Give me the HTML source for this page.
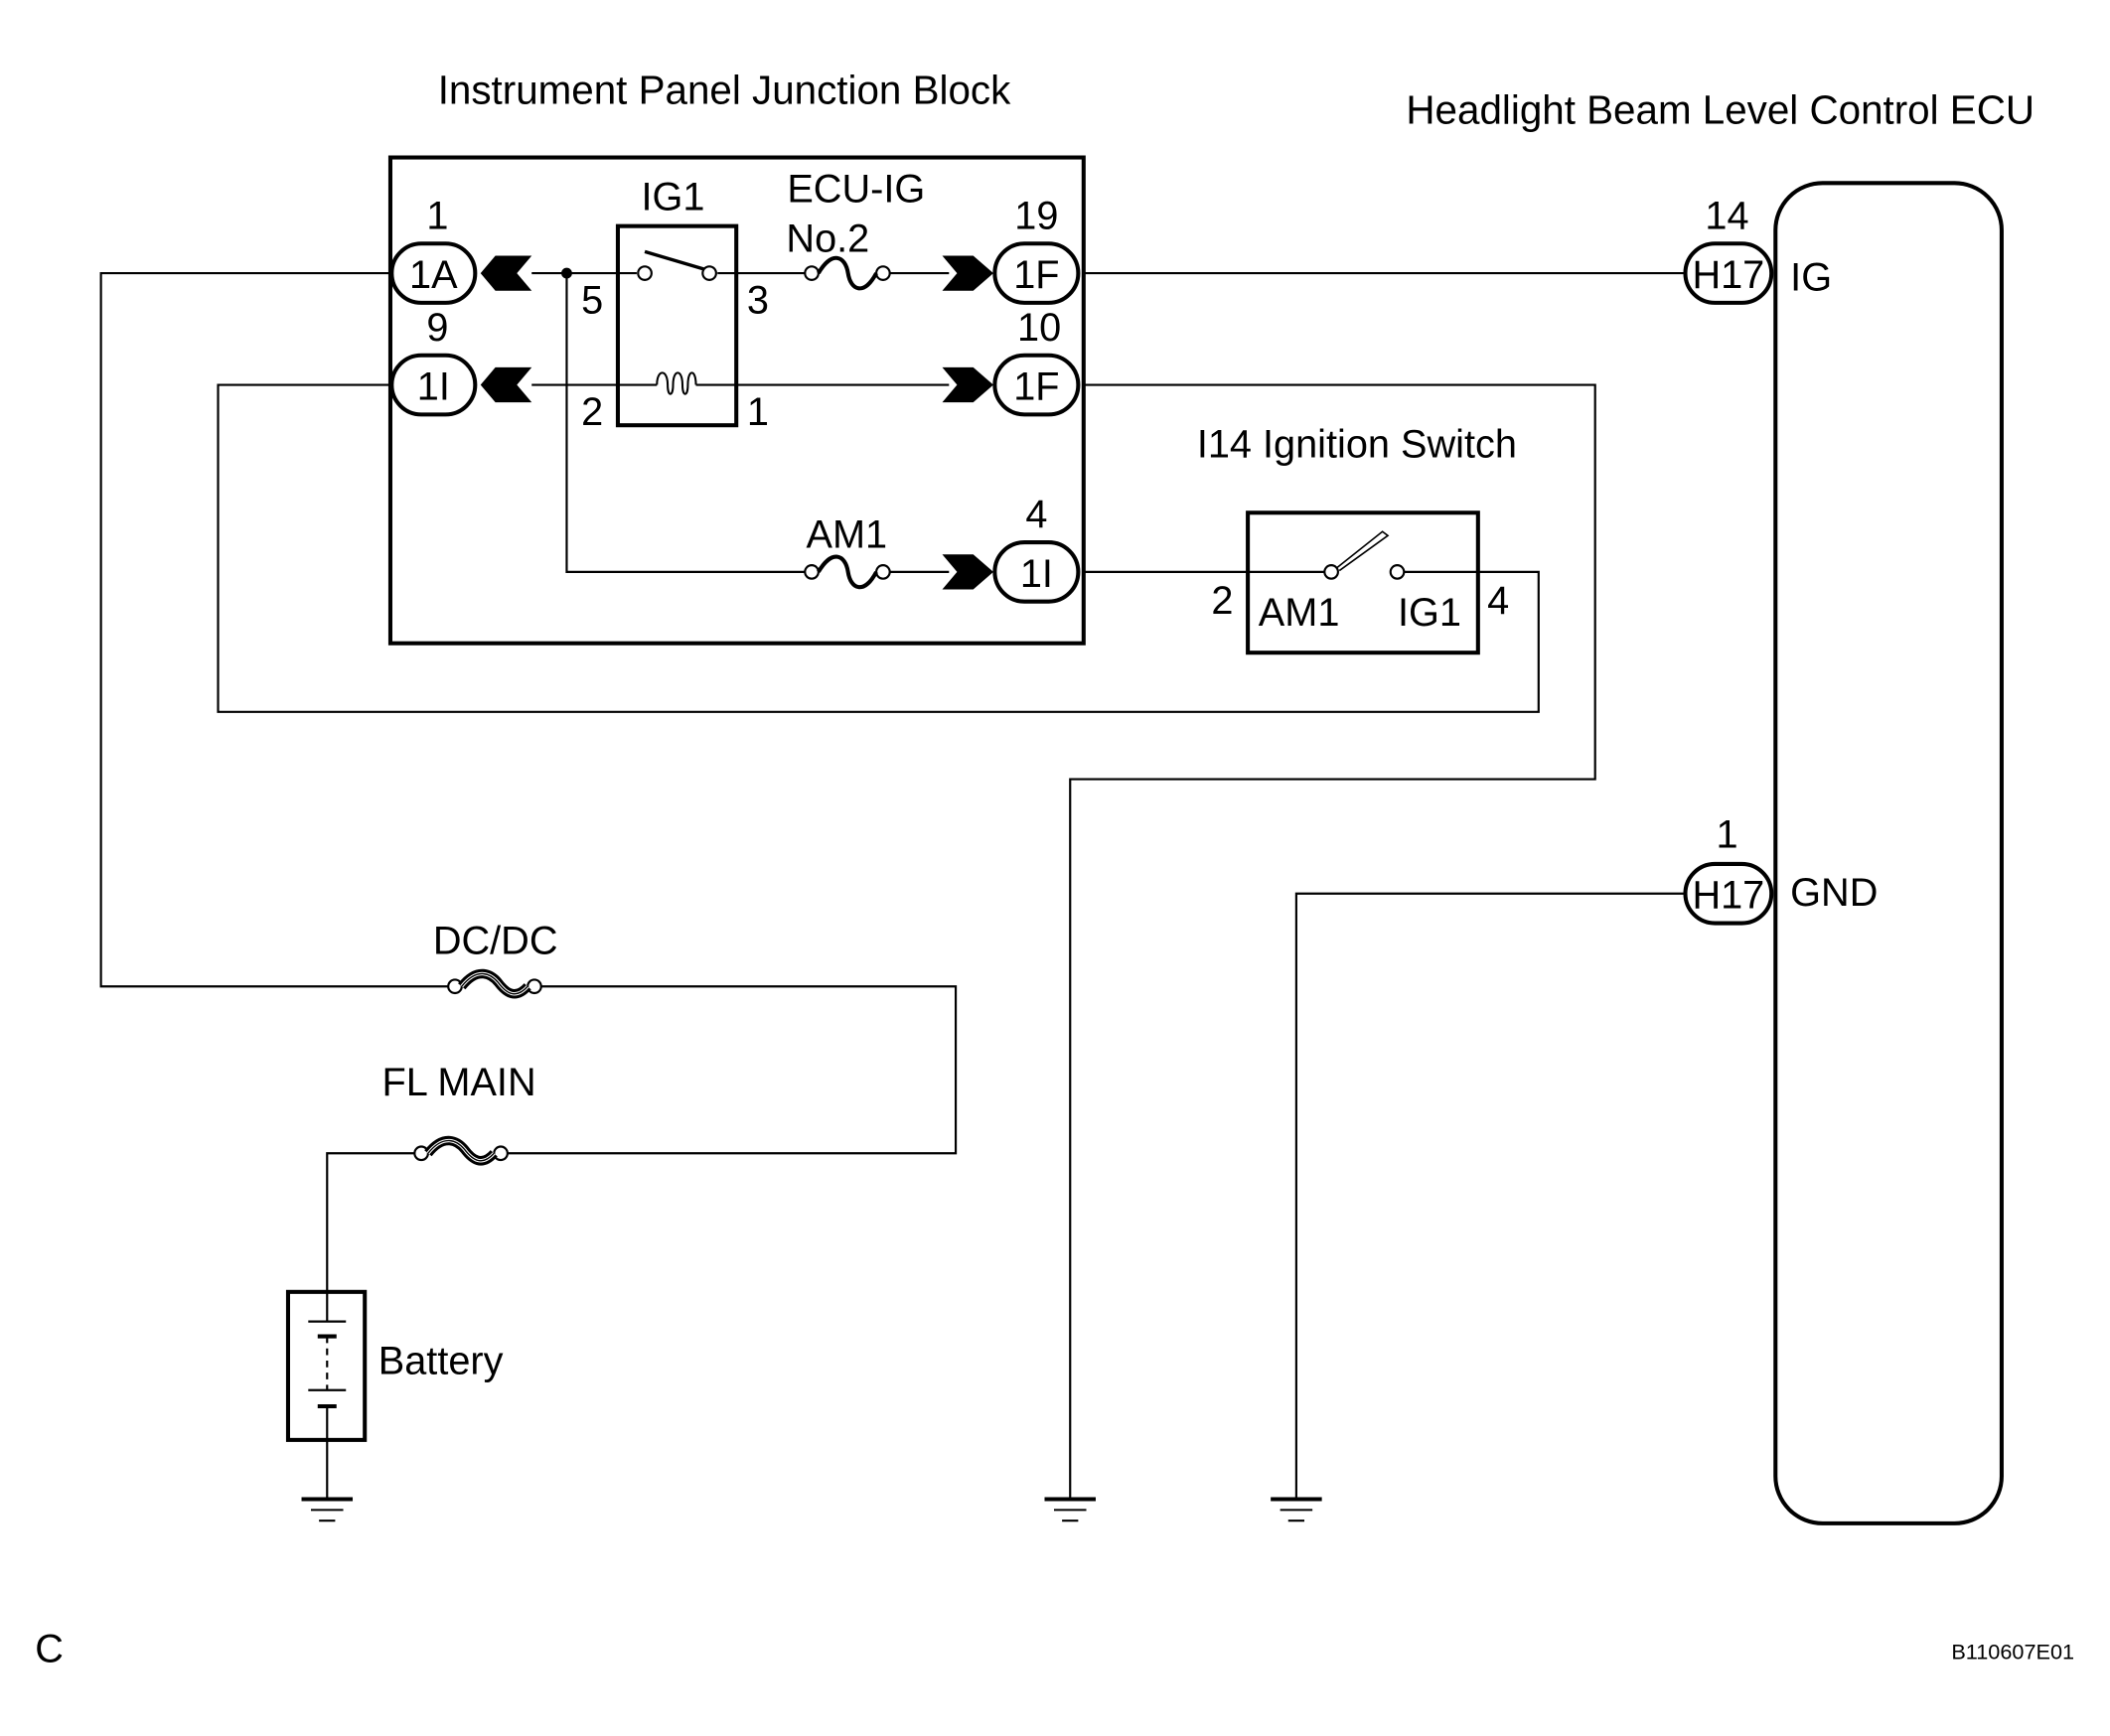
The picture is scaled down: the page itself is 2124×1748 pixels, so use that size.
<!DOCTYPE html>
<html><head><meta charset="utf-8"><style>html,body{margin:0;padding:0;background:#fff}svg{display:block}</style></head>
<body>
<svg width="2124" height="1748" viewBox="0 0 1567.5 1290" xmlns="http://www.w3.org/2000/svg" font-family="Liberation Sans, sans-serif" font-size="29.3" fill="none" stroke="#000">
<rect x="0" y="0" width="1567.5" height="1290" fill="#fff" stroke="none"/>
<g stroke-width="1.6">
<polyline points="290,203 75,203 75,733 333,733"/>
<polyline points="398,733 710,733 710,857 377,857"/>
<polyline points="308,857 243,857 243,960"/>
<line x1="243" y1="1070" x2="243" y2="1114"/>
<line x1="395" y1="203" x2="473" y2="203"/>
<line x1="533" y1="203" x2="598" y2="203"/>
<line x1="660" y1="203" x2="705" y2="203"/>
<line x1="805" y1="203" x2="1252" y2="203"/>
<line x1="395" y1="286" x2="488" y2="286"/>
<line x1="517" y1="286" x2="705" y2="286"/>
<polyline points="290,286 162,286 162,529 1143,529 1143,425 1098,425"/>
<polyline points="805,286 1185,286 1185,579 795,579 795,1114"/>
<polyline points="421,203 421,425 598,425"/>
<line x1="660" y1="425" x2="705" y2="425"/>
<line x1="805" y1="425" x2="984" y2="425"/>
<line x1="1043" y1="425" x2="1098" y2="425"/>
<polyline points="1252,664 963,664 963,1114"/>
</g>
<rect x="290" y="117" width="515" height="361" stroke-width="3"/>
<rect x="1319" y="136" width="168" height="996" rx="35" stroke-width="3"/>
<rect x="459" y="168" width="88" height="148" stroke-width="3"/>
<rect x="927" y="381" width="171" height="104" stroke-width="3"/>
<rect x="214" y="960" width="57" height="110" stroke-width="3"/>
<circle cx="479" cy="203" r="5" fill="#fff" stroke-width="1.6"/>
<circle cx="527" cy="203" r="5" fill="#fff" stroke-width="1.6"/>
<line x1="479" y1="187" x2="523" y2="200" stroke-width="2.5"/>
<path d="M488,286 C488,274 496,274 496,286 C496,295 500,295 500,286 C500,274 507,274 507,286 C507,295 511,295 511,286 C511,274 517,274 517,286" stroke-width="1.5"/>
<circle cx="421" cy="203" r="4" fill="#000" stroke="none"/>
<g stroke-width="1.6">
<circle cx="603" cy="203" r="5" fill="#fff"/><circle cx="656" cy="203" r="5" fill="#fff"/>
<path d="M608,203 C618,186 628,190 630,203 C632,216 642,220 651,203" stroke-width="3"/>
<circle cx="603" cy="425" r="5" fill="#fff"/><circle cx="656" cy="425" r="5" fill="#fff"/>
<path d="M608,425 C618,408 628,412 630,425 C632,438 642,442 651,425" stroke-width="3"/>
<circle cx="338" cy="733" r="5" fill="#fff"/><circle cx="397" cy="733" r="5" fill="#fff"/>
<path d="M343,733 C355,718 365,724 370,730 C376,738 383,743 392,733" stroke-width="7"/>
<path d="M343,733 C355,718 365,724 370,730 C376,738 383,743 392,733" stroke="#fff" stroke-width="2.5"/>
<path d="M343,733 C355,718 365,724 370,730 C376,738 383,743 392,733" stroke-width="1"/>
<circle cx="313" cy="857" r="5" fill="#fff"/><circle cx="372" cy="857" r="5" fill="#fff"/>
<path d="M318,857 C330,842 340,848 345,854 C351,862 358,867 367,857" stroke-width="7"/>
<path d="M318,857 C330,842 340,848 345,854 C351,862 358,867 367,857" stroke="#fff" stroke-width="2.5"/>
<path d="M318,857 C330,842 340,848 345,854 C351,862 358,867 367,857" stroke-width="1"/>
</g>
<circle cx="989" cy="425" r="5" fill="#fff" stroke-width="1.6"/>
<circle cx="1038" cy="425" r="5" fill="#fff" stroke-width="1.6"/>
<path d="M993,422 L1027,395 L1031,398 L995,424" stroke-width="1.2"/>
<g stroke-width="1.6">
<line x1="243" y1="960" x2="243" y2="982"/>
<line x1="229" y1="982" x2="257" y2="982"/>
<line x1="236" y1="993" x2="250" y2="993" stroke-width="3"/>
<line x1="243" y1="993" x2="243" y2="1033" stroke-dasharray="5,4"/>
<line x1="229" y1="1033" x2="257" y2="1033"/>
<line x1="236" y1="1045" x2="250" y2="1045" stroke-width="3"/>
<line x1="243" y1="1045" x2="243" y2="1070"/>
</g>
<g id="gnd">
<line x1="224" y1="1114" x2="262" y2="1114" stroke-width="3"/>
<line x1="231" y1="1122" x2="255" y2="1122" stroke-width="1.5"/>
<line x1="237" y1="1130" x2="249" y2="1130" stroke-width="1.5"/>
</g>
<use href="#gnd" x="552"/>
<use href="#gnd" x="720"/>
<g fill="#000" stroke="none">
<polygon points="357,203 368,190 395,190 384,203 395,216 368,216"/>
<polygon points="357,286 368,273 395,273 384,286 395,299 368,299"/>
<polygon points="700,190 723,190 738,203 723,216 700,216 711,203"/>
<polygon points="700,273 723,273 738,286 723,299 700,299 711,286"/>
<polygon points="700,412 723,412 738,425 723,438 700,438 711,425"/>
</g>
<g stroke-width="3" fill="#fff">
<rect x="291" y="181" width="62" height="44" rx="22"/>
<rect x="291" y="264" width="62" height="44" rx="22"/>
<rect x="739" y="181" width="62" height="44" rx="22"/>
<rect x="739" y="264" width="62" height="44" rx="22"/>
<rect x="739" y="403" width="62" height="44" rx="22"/>
<rect x="1252" y="181" width="64" height="44" rx="22"/>
<rect x="1252" y="642" width="64" height="44" rx="22"/>
</g>
<g fill="#000" stroke="none" text-anchor="middle">
<text x="538" y="77" font-size="29.8">Instrument Panel Junction Block</text>
<text x="1278" y="92" font-size="29.8">Headlight Beam Level Control ECU</text>
<text x="1008" y="340">I14 Ignition Switch</text>
<text x="322" y="214">1A</text><text x="322" y="297">1I</text>
<text x="770" y="214">1F</text><text x="770" y="297">1F</text><text x="770" y="436">1I</text>
<text x="1284" y="214">H17</text><text x="1284" y="675">H17</text>
<text x="325" y="170">1</text><text x="325" y="253">9</text>
<text x="770" y="170">19</text><text x="772" y="253">10</text><text x="770" y="392">4</text>
<text x="1283" y="170">14</text><text x="1283" y="630">1</text>
<text x="500" y="156">IG1</text>
<text x="636" y="150">ECU-IG</text>
<text x="615" y="187">No.2</text>
<text x="629" y="407">AM1</text>
<text x="440" y="233">5</text><text x="563" y="233">3</text>
<text x="440" y="316">2</text><text x="563" y="316">1</text>
<text x="908" y="456">2</text><text x="1113" y="456">4</text>
<text x="965" y="465">AM1</text><text x="1062" y="465">IG1</text>
<text x="368" y="709">DC/DC</text>
<text x="341" y="814">FL MAIN</text>
</g>
<g fill="#000" stroke="none">
<text x="1330" y="216">IG</text>
<text x="1330" y="673">GND</text>
<text x="281" y="1021">Battery</text>
<text x="26" y="1235">C</text>
<text x="1541" y="1233" font-size="16" text-anchor="end">B110607E01</text>
</g>
</svg>
</body></html>
